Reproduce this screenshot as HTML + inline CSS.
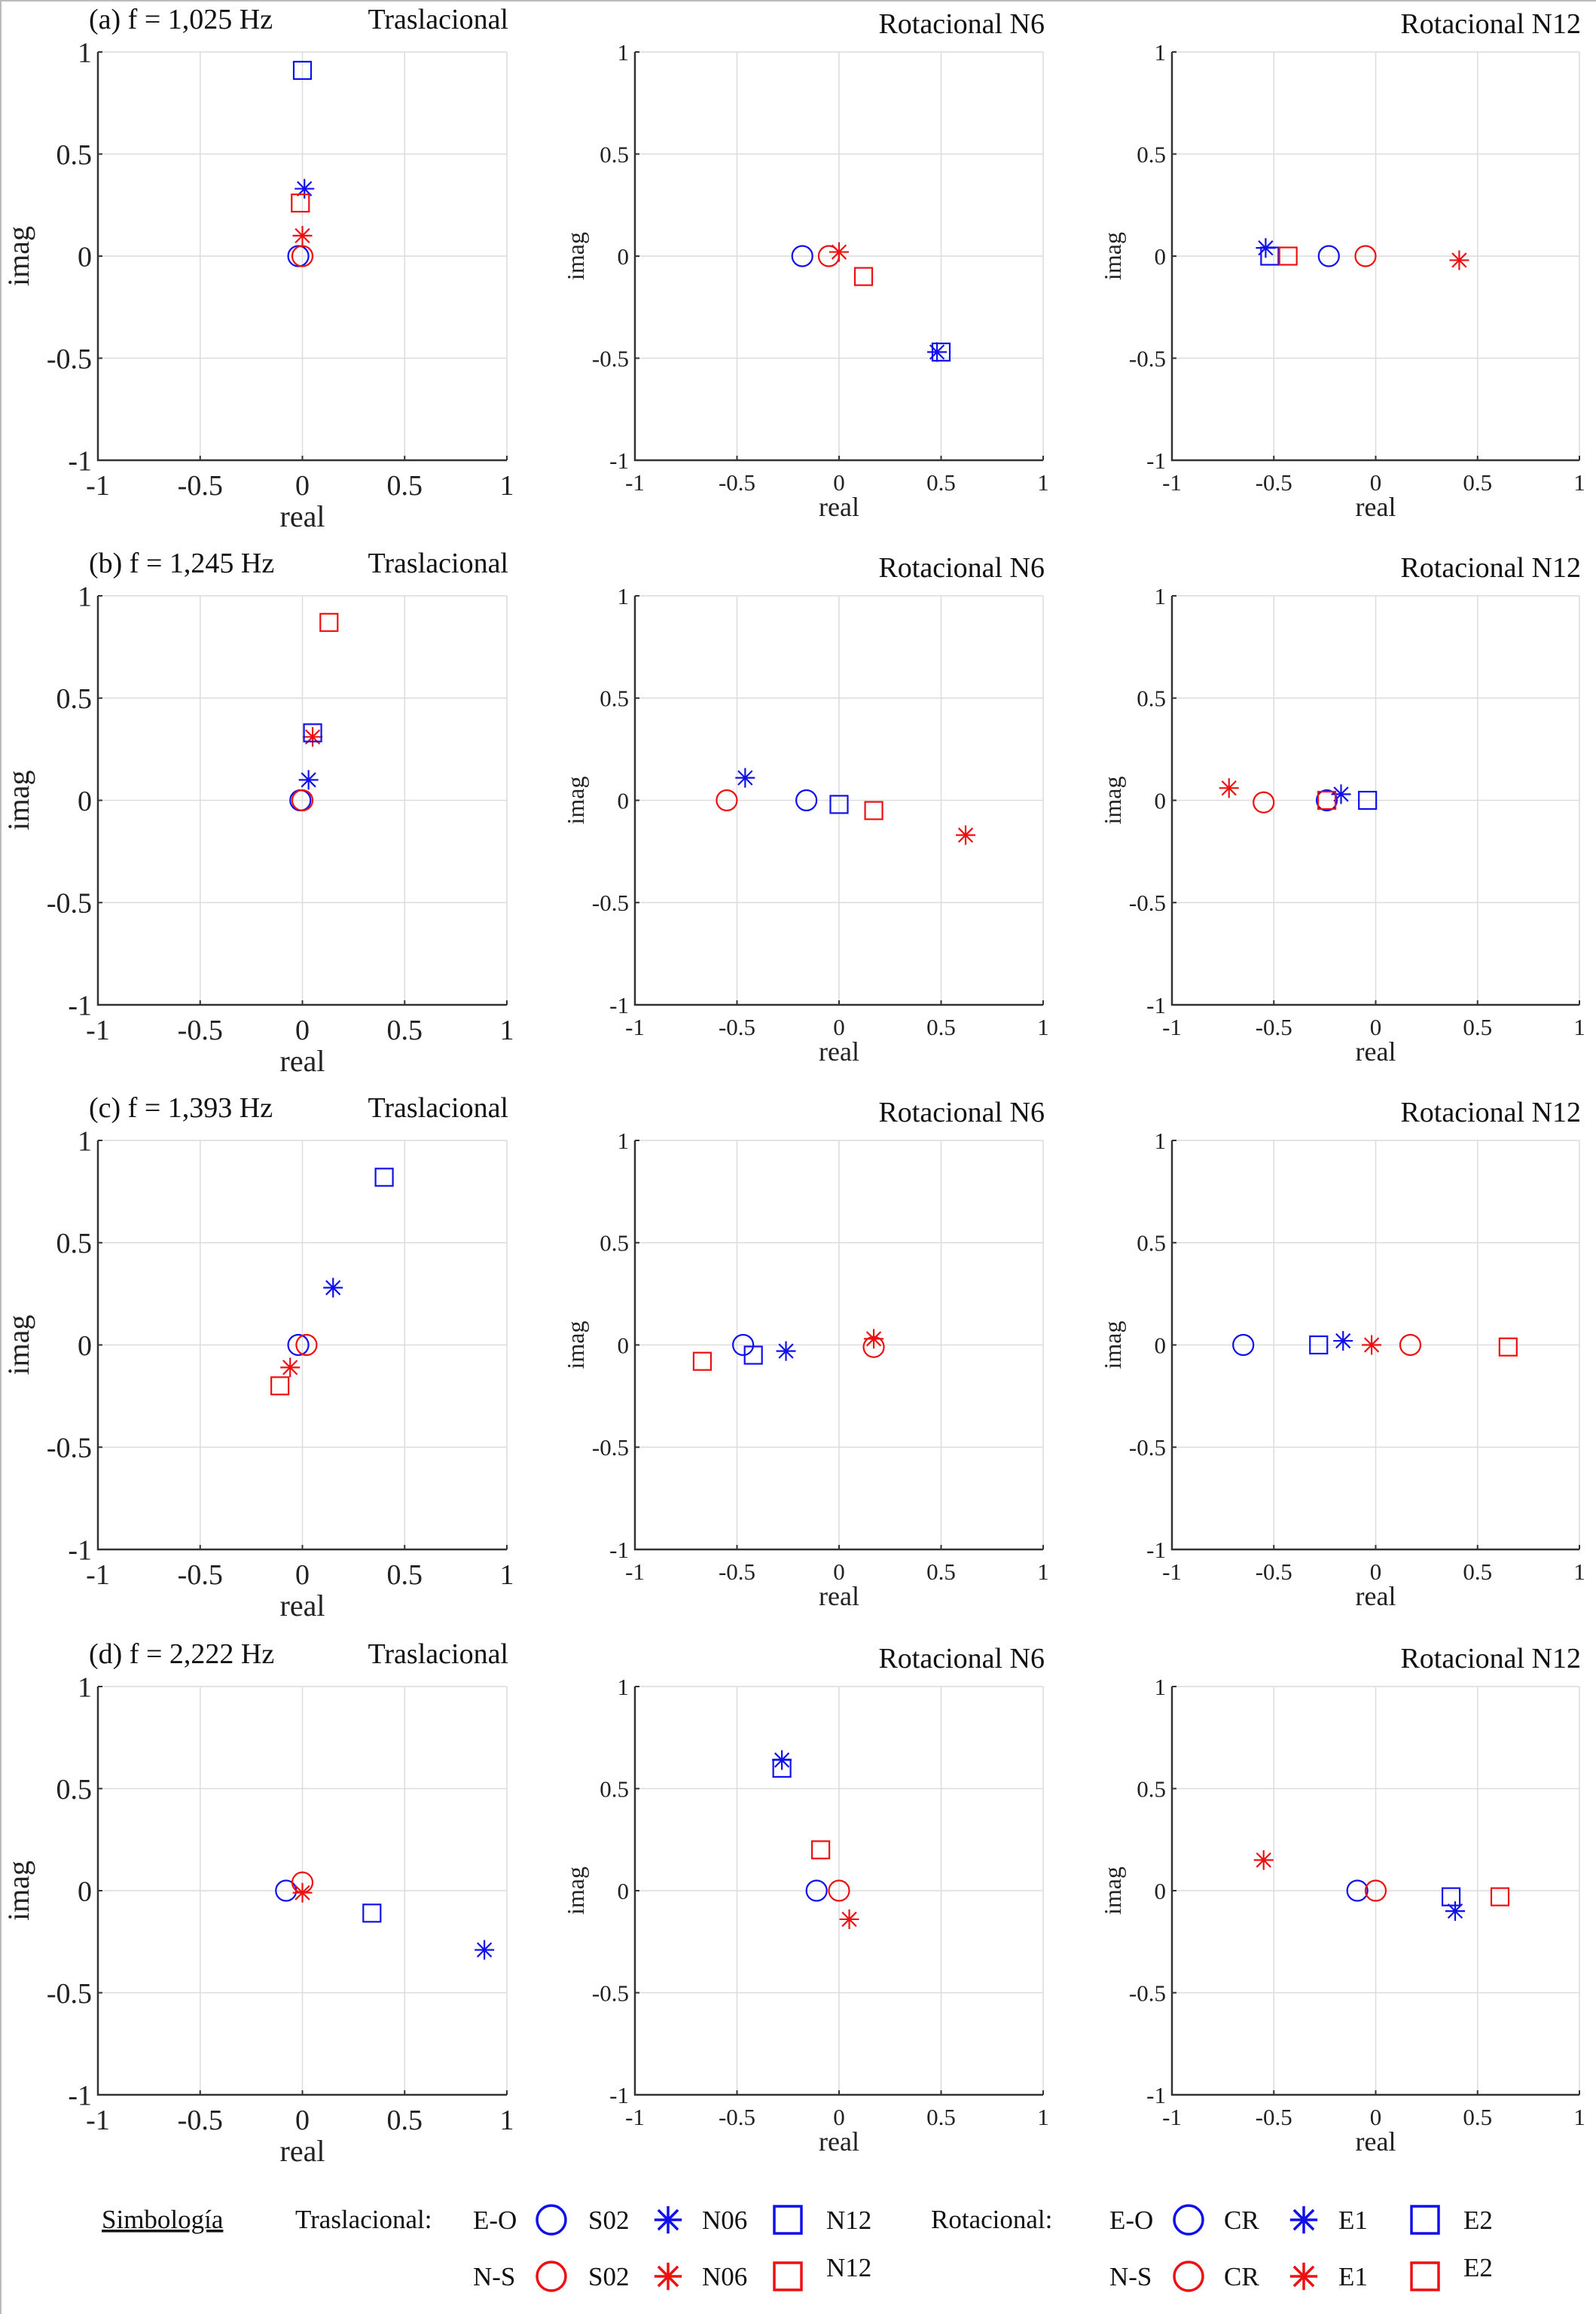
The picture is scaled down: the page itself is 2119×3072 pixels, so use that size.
<!DOCTYPE html>
<html><head><meta charset="utf-8">
<style>
html,body{margin:0;padding:0;background:#fff;}
body{width:2119px;height:3072px;overflow:hidden;}
svg{display:block;font-family:"Liberation Serif",serif;}
</style></head>
<body>
<svg id="fig" width="2119" height="3072" viewBox="0 0 2119 3072">
<line x1="1" y1="0" x2="1" y2="3072" stroke="#bbb" stroke-width="2"/>
<line x1="0" y1="1" x2="2119" y2="1" stroke="#bbb" stroke-width="2"/>
</svg>
<script>
// ----- data: [real, imag] per series; series order: blue circle, red circle, blue star, red star, blue square, red square
const rowTitles = ["(a) f = 1,025 Hz","(b) f = 1,245 Hz","(c) f = 1,393 Hz","(d) f = 2,222 Hz"];
const colTitles = ["Traslacional","Rotacional N6","Rotacional N12"];
const ticks = [-1,-0.5,0,0.5,1];
const tickLabels = ["-1","-0.5","0","0.5","1"];
const seriesKeys = ["eo-circle","ns-circle","eo-star","ns-star","eo-square","ns-square"];
const seriesColors = ["#1010ee","#ee1010","#1010ee","#ee1010","#1010ee","#ee1010"];
const seriesShapes = ["circle","circle","star","star","square","square"];
// row a
const a_tras = [[-0.02,0],[0,0],[0.01,0.33],[0,0.10],[0,0.91],[-0.01,0.26]];
const a_n6   = [[-0.18,0],[-0.05,0],[0.48,-0.47],[0,0.02],[0.50,-0.47],[0.12,-0.10]];
const a_n12  = [[-0.23,0],[-0.05,0],[-0.54,0.04],[0.41,-0.02],[-0.52,0],[-0.43,0]];
// row b
const b_tras = [[-0.01,0],[0,0],[0.03,0.10],[0.05,0.31],[0.05,0.33],[0.13,0.87]];
const b_n6   = [[-0.16,0],[-0.55,0],[-0.46,0.11],[0.62,-0.17],[0,-0.02],[0.17,-0.05]];
const b_n12  = [[-0.24,0],[-0.55,-0.01],[-0.17,0.03],[-0.72,0.06],[-0.04,0],[-0.24,0]];
// row c
const c_tras = [[-0.02,0],[0.02,0],[0.15,0.28],[-0.06,-0.11],[0.40,0.82],[-0.11,-0.20]];
const c_n6   = [[-0.47,0],[0.17,-0.01],[-0.26,-0.03],[0.17,0.03],[-0.42,-0.05],[-0.67,-0.08]];
const c_n12  = [[-0.65,0],[0.17,0],[-0.16,0.02],[-0.02,0],[-0.28,0],[0.65,-0.01]];
// row d
const d_tras = [[-0.08,0],[0,0.04],[0.89,-0.29],[0,-0.01],[0.34,-0.11],[null,null]];
const d_n6   = [[-0.11,0],[0,0],[-0.28,0.64],[0.05,-0.14],[-0.28,0.60],[-0.09,0.20]];
const d_n12  = [[-0.09,0],[0,0],[0.39,-0.10],[-0.55,0.15],[0.37,-0.03],[0.61,-0.03]];
const panelData = [[a_tras,a_n6,a_n12],[b_tras,b_n6,b_n12],[c_tras,c_n6,c_n12],[d_tras,d_n6,d_n12]];

const NS="http://www.w3.org/2000/svg";
const svg=document.getElementById('fig');
function mk(tag,attrs,parent){const e=document.createElementNS(NS,tag);for(const k in attrs)e.setAttribute(k,attrs[k]);(parent||svg).appendChild(e);return e;}

const colX=[[130,673],[843,1385],[1556,2097]];
const rowY=[[69,611],[791,1334],[1514,2057],[2239,2781]];

function drawMarker(g,shape,color,cx,cy,scale,swid){
  const s=scale||1, sw=swid||2.2;
  if(shape==="circle"){return mk('circle',{cx:cx,cy:cy,r:13.5*s,fill:'none',stroke:color,'stroke-width':sw},g);}
  if(shape==="square"){return mk('rect',{x:cx-11.5*s,y:cy-11.5*s,width:23*s,height:23*s,fill:'none',stroke:color,'stroke-width':sw},g);}
  const gg=mk('g',{stroke:color,'stroke-width':sw},g);
  const r=13*s;
  mk('line',{x1:cx,y1:cy-r,x2:cx,y2:cy+r},gg);
  mk('line',{x1:cx-r,y1:cy,x2:cx+r,y2:cy},gg);
  mk('line',{x1:cx-r*0.72,y1:cy-r*0.72,x2:cx+r*0.72,y2:cy+r*0.72},gg);
  mk('line',{x1:cx-r*0.72,y1:cy+r*0.72,x2:cx+r*0.72,y2:cy-r*0.72},gg);
  return gg;
}

for(let r=0;r<4;r++){
  for(let c=0;c<3;c++){
    const [x0,x1]=colX[c],[y0,y1]=rowY[r];
    const sx=v=>x0+(v+1)/2*(x1-x0);
    const sy=v=>y1-(v+1)/2*(y1-y0);
    const g=mk('g',{});
    
    
    const big=(c===0);
    const tfs=big?38:31;
    ticks.forEach(t=>{
      const gl=mk('line',{x1:sx(t),y1:y0,x2:sx(t),y2:y1,stroke:'#dcdcdc','stroke-width':1.5},g);
      
      
      const gh=mk('line',{x1:x0,y1:sy(t),x2:x1,y2:sy(t),stroke:'#dcdcdc','stroke-width':1.5},g);
      
      
    });
    const ax=mk('path',{d:`M${x0},${y0}V${y1}H${x1}`,fill:'none',stroke:'#333','stroke-width':2.5},g);
    
    
    ticks.forEach((t,i)=>{
      mk('line',{x1:sx(t),y1:y1,x2:sx(t),y2:y1-6,stroke:'#333','stroke-width':2},g);
      mk('line',{x1:x0,y1:sy(t),x2:x0+6,y2:sy(t),stroke:'#333','stroke-width':2},g);
      const xt=mk('text',{x:sx(t),y:y1+(big?46:40),'font-size':tfs,'text-anchor':'middle',fill:'#222'},g);
      xt.textContent=tickLabels[i];
      
      
      const yt=mk('text',{x:x0-8,y:sy(t)+tfs*0.35,'font-size':tfs,'text-anchor':'end',fill:'#222'},g);
      yt.textContent=tickLabels[i];
      
      
    });
    const xl=mk('text',{x:(x0+x1)/2,y:y1+(big?88:74),'font-size':big?40:36,'text-anchor':'middle',fill:'#222'},g);
    xl.textContent='real';
    
    
    const ylx=big?x0-92:x0-68;
    const yl=mk('text',{x:ylx,y:(y0+y1)/2,'font-size':big?40:32,'text-anchor':'middle',fill:'#222',transform:`rotate(-90 ${ylx} ${(y0+y1)/2})`},g);
    yl.textContent='imag';
    
    
    const tt=mk('text',{x:x1+2,y:y0-(c===0?31:25),'font-size':38,'text-anchor':'end',fill:'#111'},g);
    tt.textContent=colTitles[c];
    
    
    if(c===0){
      const rt=mk('text',{x:118,y:y0-31,'font-size':38,fill:'#111'},g);
      rt.textContent=rowTitles[r];
      
      
    }
    const data=panelData[r][c];
    data.forEach((p,i)=>{
      if(p[0]===null) return;
      const m=drawMarker(g,seriesShapes[i],seriesColors[i],sx(p[0]),sy(p[1]));
      
      
    });
  }
}

// legend
const lg=mk('g',{'font-size':35,fill:'#111'});


function lt(x,y,s,name,extra){const t=mk('text',Object.assign({x:x,y:y},extra||{}),lg);t.textContent=s;return t;}
lt(135,2958,'Simbología','legend-title',{'text-decoration':'underline'});
lt(392,2958,'Traslacional:','legend-traslacional-label');
lt(1236,2958,'Rotacional:','legend-rotacional-label');
const legRows=[[2947,'#1010ee','E-O'],[3022,'#ee1010','N-S']];
legRows.forEach(([cy,col,lab])=>{
  [[628,732,781,'S02',887,932,'N06',1046,1097,'N12'],[1473,1578,1625,'CR',1731,1777,'E1',1892,1943,'E2']].forEach(s=>{
    lt(s[0],cy+12,lab,'legend-dir-label');
    let m=mk('circle',{cx:s[1],cy:cy,r:19,fill:'none',stroke:col,'stroke-width':3.5},lg);
    
    
    lt(s[2],cy+12,s[3],'legend-label');
    const st=drawMarker(lg,'star',col,s[4],cy,1.4,3.5);
    
    
    lt(s[5],cy+12,s[6],'legend-label');
    m=mk('rect',{x:s[7]-18,y:cy-18,width:36,height:36,fill:'none',stroke:col,'stroke-width':3.5},lg);
    
    
    lt(s[8],cy+(lab==='E-O'?12:0),s[9],'legend-label');
  });
});
</script>
</body></html>
